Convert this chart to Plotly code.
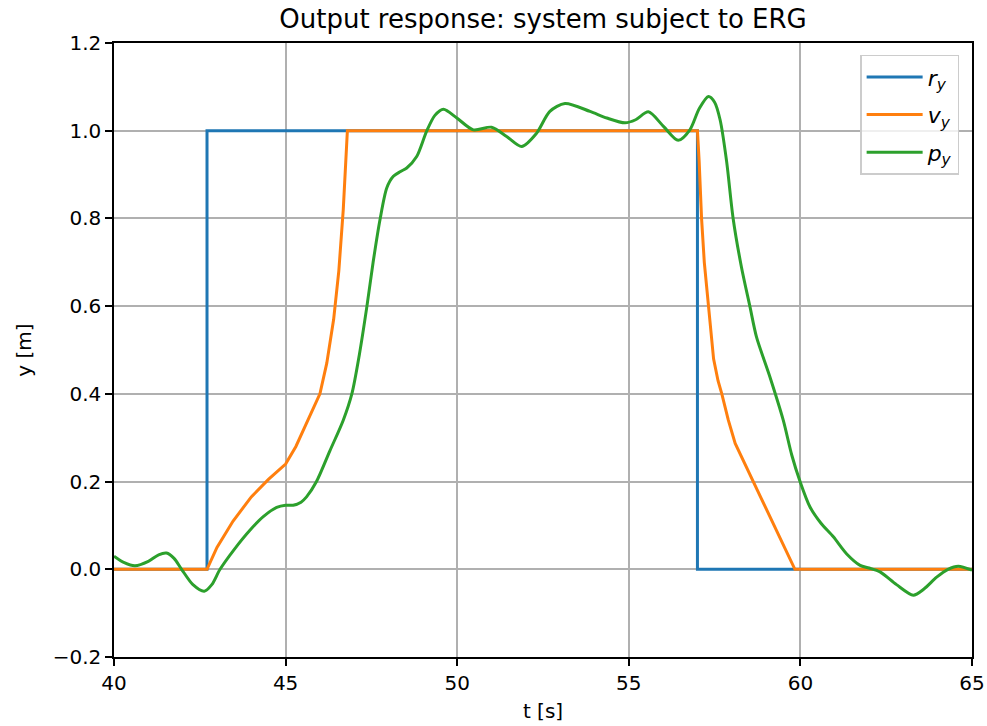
import plotly.graph_objects as go

# Reference signal r_y (step up, step down)
r_t = [40.0, 42.71, 42.71, 57.0, 57.0, 65.0]
r_y = [0.0, 0.0, 1.0, 1.0, 0.0, 0.0]

# Applied reference v_y produced by the ERG
v_t = [40.0, 42.71, 43.0, 43.47, 44.0, 44.5, 45.0, 45.3, 45.65, 46.0, 46.2, 46.4, 46.55,
       46.68, 46.8, 57.0, 57.05, 57.12, 57.2, 57.32, 57.47, 57.6, 57.71, 57.9, 58.1,
       59.84, 65.0]
v_y = [0.0, 0.0, 0.05, 0.11, 0.165, 0.205, 0.24, 0.28, 0.34, 0.40, 0.47, 0.57, 0.68,
       0.82, 1.0, 1.0, 0.93, 0.80, 0.70, 0.60, 0.48, 0.43, 0.40, 0.34, 0.287,
       0.0, 0.0]

# Output position p_y
p_t = [40.0, 40.3, 40.61, 41.0, 41.3, 41.53, 41.75, 41.97, 42.3, 42.63, 42.85, 43.09,
       43.5, 43.96, 44.35, 44.74, 45.0, 45.22, 45.45, 45.61, 45.9, 46.29, 46.68, 46.93,
       47.15, 47.37, 47.55, 47.75, 47.95, 48.14, 48.35, 48.53, 48.82, 49.11, 49.35, 49.6,
       49.99, 50.47, 51.0, 51.44, 51.88, 52.31, 52.7, 53.14, 53.87, 54.36, 54.89, 55.2,
       55.57, 56.01, 56.44, 56.78, 57.05, 57.32, 57.5, 57.66, 57.85, 58.04, 58.28, 58.53,
       58.72, 59.11, 59.5, 59.75, 59.99, 60.28, 60.6, 60.96, 61.35, 61.74, 62.0, 62.32,
       62.8, 63.29, 63.6, 63.97, 64.3, 64.6, 65.0]
p_y = [0.03, 0.015, 0.008, 0.018, 0.033, 0.037, 0.025, 0.0, -0.035, -0.05, -0.035, 0.0,
       0.045, 0.089, 0.12, 0.141, 0.146, 0.146, 0.153, 0.165, 0.2, 0.27, 0.34, 0.40,
       0.49, 0.60, 0.70, 0.797, 0.87, 0.896, 0.907, 0.915, 0.941, 0.999, 1.035, 1.049,
       1.029, 1.002, 1.008, 0.987, 0.964, 0.994, 1.044, 1.062, 1.044, 1.029, 1.018, 1.025,
       1.043, 1.01, 0.978, 1.002, 1.05, 1.078, 1.065, 1.025, 0.93, 0.80, 0.69, 0.599,
       0.53, 0.439, 0.34, 0.26, 0.2, 0.142, 0.105, 0.074, 0.035, 0.009, 0.003, -0.006,
       -0.035, -0.059, -0.045, -0.018, 0.0, 0.007, -0.002]

x_ticks = [40, 45, 50, 55, 60, 65]
y_ticks = [-0.2, 0.0, 0.2, 0.4, 0.6, 0.8, 1.0, 1.2]

FONT = "DejaVu Sans"

fig = go.Figure()
fig.add_trace(go.Scatter(x=r_t, y=r_y, mode="lines", name="<i>r</i><sub><i>y</i></sub>",
                         legendgroup="r", line=dict(color="#1f77b4", width=3)))
fig.add_trace(go.Scatter(x=v_t, y=v_y, mode="lines", name="<i>v</i><sub><i>y</i></sub>",
                         legendgroup="v", line=dict(color="#ff7f0e", width=3)))
fig.add_trace(go.Scatter(x=p_t, y=p_y, mode="lines", name="<i>p</i><sub><i>y</i></sub>",
                         legendgroup="p",
                         line=dict(color="#2ca02c", width=3, shape="spline", smoothing=0.8)))

axis_common = dict(
    showgrid=True, gridcolor="#b0b0b0", gridwidth=1.5,
    showline=True, linecolor="black", linewidth=1.5, mirror=True,
    ticks="outside", ticklen=7, tickwidth=1.5, tickcolor="black",
    zeroline=False, automargin=False,
    tickfont=dict(family=FONT, size=20, color="black"),
)

fig.update_layout(
    width=987, height=726,
    margin=dict(l=114, r=15, t=43, b=69),
    paper_bgcolor="white", plot_bgcolor="white",
    font=dict(family=FONT, color="black"),
    title=dict(text="Output response: system subject to ERG", xref="paper", x=0.5,
               xanchor="center", y=1 - 19 / 726, yanchor="middle",
               font=dict(family=FONT, size=26, color="black")),
    xaxis=dict(range=[40, 65], tickvals=x_ticks, ticktext=[str(v) for v in x_ticks],
               title=dict(text="t [s]", font=dict(family=FONT, size=20), standoff=10),
               **axis_common),
    yaxis=dict(range=[-0.2, 1.2], tickvals=y_ticks, tickformat=".1f",
               title=dict(text="y [m]", font=dict(family=FONT, size=20), standoff=16),
               **axis_common),
    legend=dict(x=0.985, y=0.981, xanchor="right", yanchor="top",
                bgcolor="rgba(255,255,255,0.8)", bordercolor="#cccccc", borderwidth=1.5,
                font=dict(family=FONT, size=22, color="black"),
                itemwidth=56, tracegroupgap=6),
    showlegend=True,
)

fig.write_html("out.html")
